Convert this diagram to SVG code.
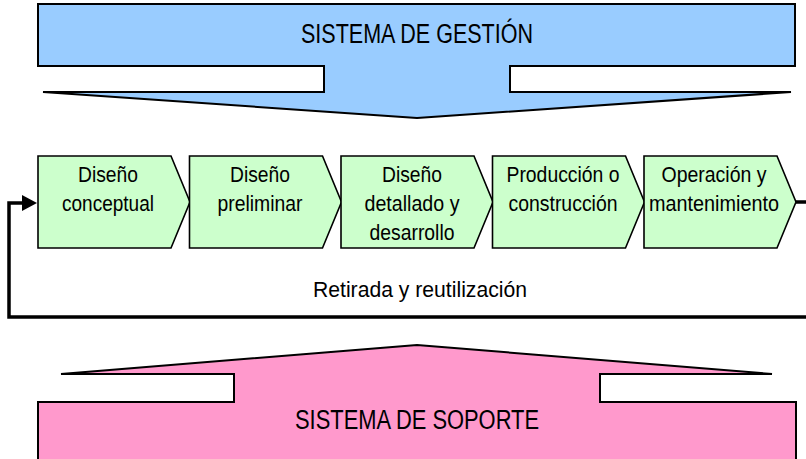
<svg xmlns="http://www.w3.org/2000/svg" width="806" height="459" viewBox="0 0 806 459">
  <style>
    .sys { stroke: #000; stroke-width: 2; stroke-linejoin: miter; }
    .chev { fill: #CCFFCC; stroke: #000; stroke-width: 1.6; stroke-linejoin: miter; }
    .big { font-family: "Liberation Sans", Arial, sans-serif; font-size: 27px; fill: #000; text-anchor: middle; }
    .lbl { font-family: "Liberation Sans", Arial, sans-serif; font-size: 21.5px; fill: #000; text-anchor: middle; }
    .conn { fill: none; stroke: #000; stroke-width: 3.5; stroke-linejoin: miter; }
  </style>
  <defs>
    <marker id="arr" markerUnits="userSpaceOnUse" markerWidth="20" markerHeight="20" viewBox="0 -10 20 20" refX="1" refY="0" orient="auto">
      <path d="M0,-8 L15,0 L0,8 Z" fill="#000"/>
    </marker>
  </defs>
  <rect width="806" height="459" fill="#fff"/>

  <g id="gestion">
    <path class="sys" fill="#99CCFF" d="M38,4 H795 V66 H510 V92 H791 L417,118 L43,92 H324 V66 H38 Z"/>
    <text class="big" x="417" y="43" textLength="232" lengthAdjust="spacingAndGlyphs">SISTEMA DE GESTIÓN</text>
  </g>

  <g id="soporte">
    <path class="sys" fill="#FF99CC" d="M38,470 V402 H234 V374 H61 L417,345 L772,374 H600 V402 H796 V470 Z"/>
    <text class="big" x="417" y="429" textLength="244" lengthAdjust="spacingAndGlyphs">SISTEMA DE SOPORTE</text>
  </g>

  <g id="connectors">
    <path class="conn" d="M796,202 H815 V317 H9 V203 H23" marker-end="url(#arr)"/>
  </g>

  <g id="conceptual">
    <path class="chev" d="M38,156 H171 L190,202 L171,248 H38 Z"/>
    <text class="lbl" x="108" y="182" textLength="60" lengthAdjust="spacingAndGlyphs">Diseño</text>
    <text class="lbl" x="108" y="211" textLength="92" lengthAdjust="spacingAndGlyphs">conceptual</text>
  </g>

  <g id="preliminar">
    <path class="chev" d="M189.5,156 H322.5 L341.5,202 L322.5,248 H189.5 Z"/>
    <text class="lbl" x="260" y="182" textLength="60" lengthAdjust="spacingAndGlyphs">Diseño</text>
    <text class="lbl" x="260" y="211" textLength="85" lengthAdjust="spacingAndGlyphs">preliminar</text>
  </g>

  <g id="detallado">
    <path class="chev" d="M341,156 H474 L493,202 L474,248 H341 Z"/>
    <text class="lbl" x="412" y="182" textLength="60" lengthAdjust="spacingAndGlyphs">Diseño</text>
    <text class="lbl" x="412" y="211" textLength="95" lengthAdjust="spacingAndGlyphs">detallado y</text>
    <text class="lbl" x="412" y="240" textLength="85" lengthAdjust="spacingAndGlyphs">desarrollo</text>
  </g>

  <g id="produccion">
    <path class="chev" d="M492.5,156 H625.5 L644.5,202 L625.5,248 H492.5 Z"/>
    <text class="lbl" x="563" y="182" textLength="113" lengthAdjust="spacingAndGlyphs">Producción o</text>
    <text class="lbl" x="563" y="211" textLength="109" lengthAdjust="spacingAndGlyphs">construcción</text>
  </g>

  <g id="operacion">
    <path class="chev" d="M644,156 H777 L796,202 L777,248 H644 Z"/>
    <text class="lbl" x="714" y="182" textLength="105" lengthAdjust="spacingAndGlyphs">Operación y</text>
    <text class="lbl" x="714" y="211" textLength="130" lengthAdjust="spacingAndGlyphs">mantenimiento</text>
  </g>

  <g id="retirada">
    <text class="lbl" x="420" y="297" textLength="214" lengthAdjust="spacingAndGlyphs" style="font-size:22px">Retirada y reutilización</text>
  </g>
</svg>
